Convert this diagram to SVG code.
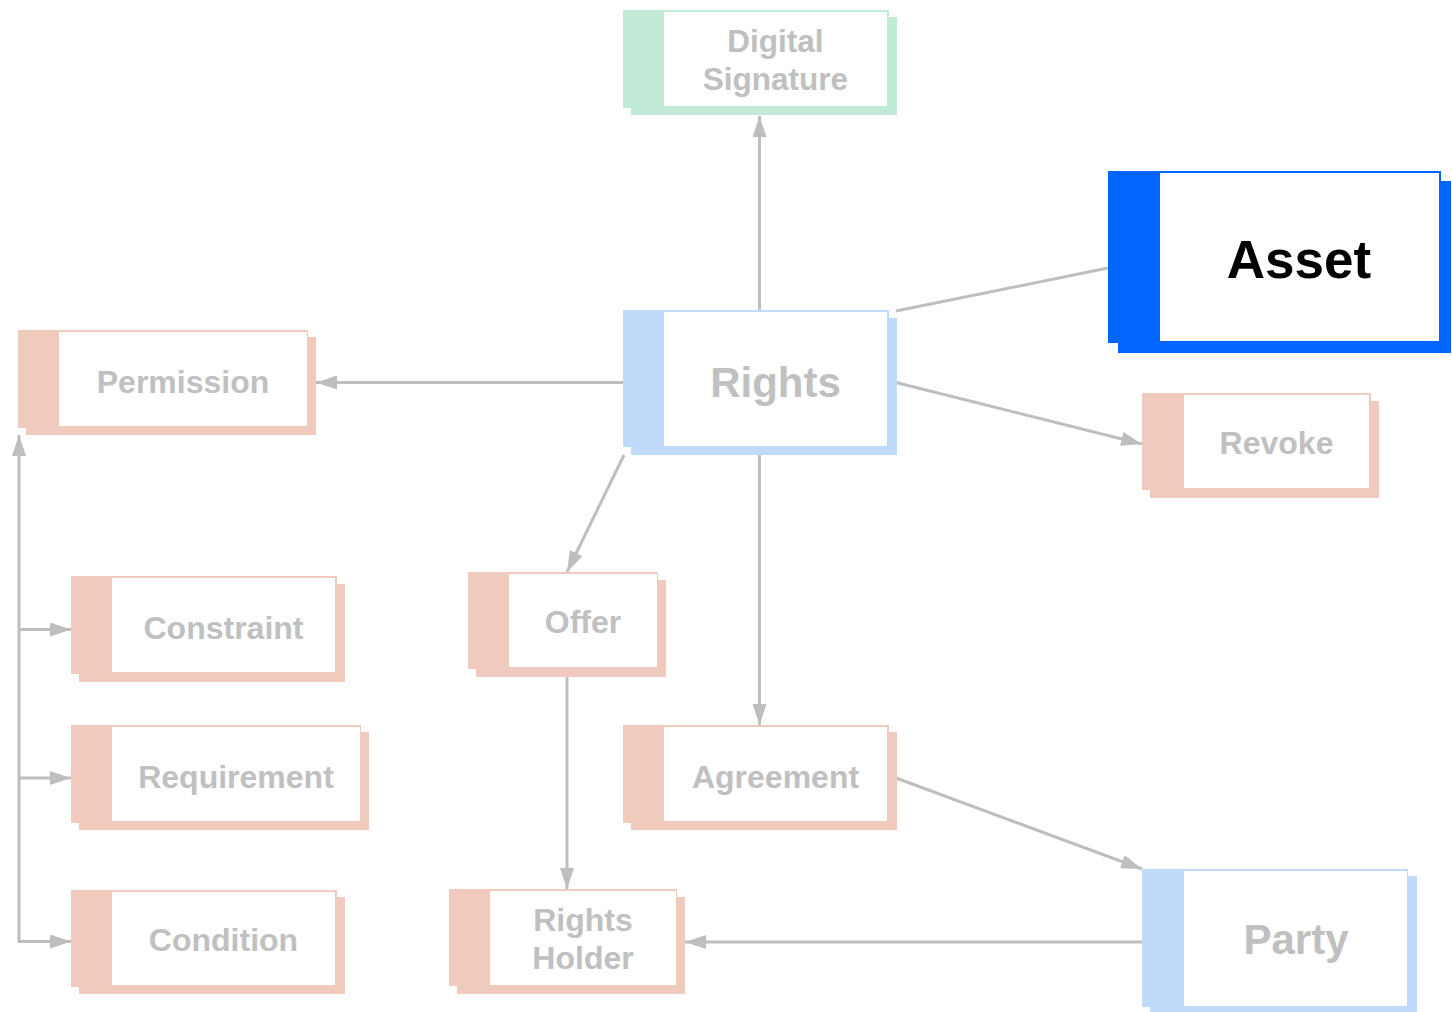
<svg xmlns="http://www.w3.org/2000/svg" width="1452" height="1012" viewBox="0 0 1452 1012">
<defs>
<style>
.t{font-family:"Liberation Sans",Arial,sans-serif;font-weight:bold;fill:#c0c0c0;text-anchor:middle}
.s{fill:#f0cabd}
.b{fill:#c0dafc}
.g{fill:#c0ead5}
.a{fill:#0066ff}
.w{fill:#ffffff}
.c{stroke:#bebebe;stroke-width:3;fill:none}
</style>
<marker id="ah" markerUnits="userSpaceOnUse" markerWidth="22" markerHeight="14" refX="21" refY="7" orient="auto" viewBox="0 0 22 14">
<path d="M0,0 L21,7 L0,14 z" fill="#bebebe"/>
</marker>
</defs>
<rect width="1452" height="1012" fill="#ffffff"/>
<g id="connectors">
<line class="c" x1="759.5" y1="310" x2="759.5" y2="116" marker-end="url(#ah)"/>
<line class="c" x1="896" y1="311" x2="1108" y2="268"/>
<line class="c" x1="623" y1="382.5" x2="316" y2="382.5" marker-end="url(#ah)"/>
<line class="c" x1="896" y1="382.5" x2="1142" y2="444" marker-end="url(#ah)"/>
<line class="c" x1="624" y1="455" x2="567" y2="572" marker-end="url(#ah)"/>
<line class="c" x1="759.5" y1="455" x2="759.5" y2="725" marker-end="url(#ah)"/>
<line class="c" x1="896" y1="778" x2="1142" y2="869" marker-end="url(#ah)"/>
<line class="c" x1="1142" y1="942" x2="685" y2="942" marker-end="url(#ah)"/>
<line class="c" x1="567" y1="677" x2="567" y2="889" marker-end="url(#ah)"/>
<polyline class="c" points="71,941.5 19,941.5 19,435" marker-end="url(#ah)"/>
<line class="c" x1="19" y1="629.5" x2="71" y2="629.5" marker-end="url(#ah)"/>
<line class="c" x1="19" y1="778" x2="71" y2="778" marker-end="url(#ah)"/>
<line class="c" x1="19" y1="941.5" x2="71" y2="941.5" marker-end="url(#ah)"/>
</g>
<g id="digital-signature">
<rect class="g" x="631" y="17" width="266" height="98"/>
<rect class="g" x="623" y="10" width="266" height="98"/>
<rect class="w" x="664" y="12" width="223" height="94"/>
<text class="t" x="775.5" y="52" font-size="31.5">Digital</text>
<text class="t" x="775.5" y="90" font-size="31.5">Signature</text>
</g>
<g id="asset">
<rect class="a" x="1118" y="181" width="333" height="172"/>
<rect class="a" x="1108" y="171" width="333" height="172"/>
<rect class="w" x="1160" y="173" width="279" height="168"/>
<text x="1299" y="278" font-size="53" font-family="Liberation Sans, Arial, sans-serif" font-weight="bold" fill="#000000" text-anchor="middle">Asset</text>
</g>
<g id="rights">
<rect class="b" x="631" y="318" width="266" height="137"/>
<rect class="b" x="623" y="310" width="266" height="137"/>
<rect class="w" x="664" y="312" width="223" height="134"/>
<text class="t" x="775.5" y="397" font-size="42">Rights</text>
</g>
<g id="permission">
<rect class="s" x="26" y="337" width="290" height="98"/>
<rect class="s" x="18" y="330" width="290" height="98"/>
<rect class="w" x="59" y="332" width="248" height="94"/>
<text class="t" x="183" y="393" font-size="32">Permission</text>
</g>
<g id="revoke">
<rect class="s" x="1150" y="401" width="229" height="97"/>
<rect class="s" x="1142" y="393" width="229" height="97"/>
<rect class="w" x="1184" y="395" width="185" height="93"/>
<text class="t" x="1276.5" y="454" font-size="32">Revoke</text>
</g>
<g id="constraint">
<rect class="s" x="79" y="584" width="266" height="98"/>
<rect class="s" x="71" y="576" width="266" height="98"/>
<rect class="w" x="112" y="578" width="223" height="94"/>
<text class="t" x="223.5" y="639" font-size="32">Constraint</text>
</g>
<g id="offer">
<rect class="s" x="476" y="580" width="190" height="97"/>
<rect class="s" x="468" y="572" width="190" height="97"/>
<rect class="w" x="509" y="574" width="148" height="93"/>
<text class="t" x="583" y="633" font-size="32">Offer</text>
</g>
<g id="requirement">
<rect class="s" x="79" y="732" width="290" height="98"/>
<rect class="s" x="71" y="725" width="290" height="98"/>
<rect class="w" x="112" y="727" width="248" height="94"/>
<text class="t" x="236" y="788" font-size="32">Requirement</text>
</g>
<g id="agreement">
<rect class="s" x="631" y="732" width="266" height="98"/>
<rect class="s" x="623" y="725" width="266" height="98"/>
<rect class="w" x="664" y="727" width="223" height="94"/>
<text class="t" x="775.5" y="788" font-size="32">Agreement</text>
</g>
<g id="condition">
<rect class="s" x="79" y="897" width="266" height="97"/>
<rect class="s" x="71" y="890" width="266" height="97"/>
<rect class="w" x="112" y="892" width="223" height="93"/>
<text class="t" x="223.5" y="951" font-size="32">Condition</text>
</g>
<g id="rights-holder">
<rect class="s" x="457" y="897" width="228" height="97"/>
<rect class="s" x="449" y="889" width="228" height="97"/>
<rect class="w" x="490" y="891" width="186" height="94"/>
<text class="t" x="583" y="931" font-size="32">Rights</text>
<text class="t" x="583" y="969" font-size="32">Holder</text>
</g>
<g id="party">
<rect class="b" x="1150" y="876" width="267" height="136"/>
<rect class="b" x="1142" y="869" width="266" height="138"/>
<rect class="w" x="1184" y="871" width="223" height="135"/>
<text class="t" x="1296" y="954" font-size="42">Party</text>
</g>
</svg>
